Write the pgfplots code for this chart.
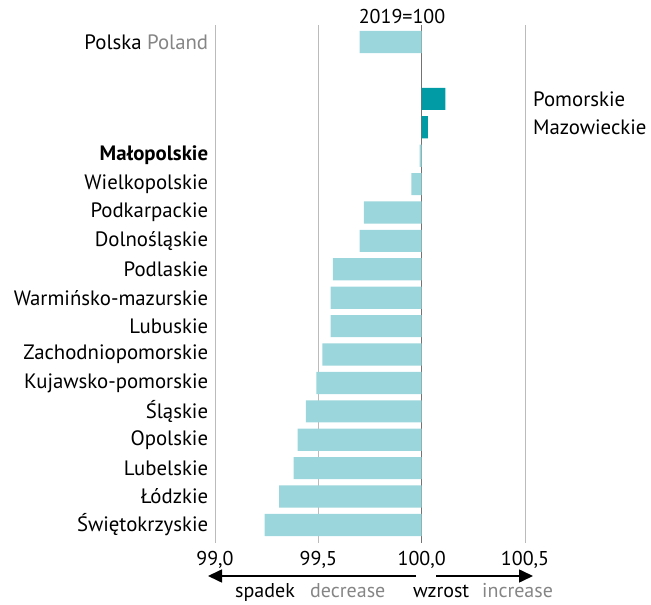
\documentclass[border=0pt]{standalone}
\usepackage{pgfplots}
\pgfplotsset{compat=1.18}
\usepackage{pgfplotstable}
\usepackage{fontspec}
\setmainfont{PT Sans}
\usetikzlibrary{arrows.meta}
\definecolor{lightbar}{HTML}{9BD6DC}
\definecolor{darkbar}{HTML}{009BA4}
\definecolor{txtgray}{HTML}{858585}
\definecolor{gridgray}{HTML}{BBBBBB}
\newcommand\f{\fontsize{20}{23}\selectfont}
\newcommand\fl{\fontsize{20.8}{24}\selectfont}
\newcommand\hundred{100,0}
\pgfplotstableread{
y v
0 99.24
1 99.31
2 99.38
3 99.40
4 99.44
5 99.49
6 99.52
7 99.56
8 99.56
9 99.57
10 99.70
11 99.72
12 99.95
13 99.99
17 99.70
}\lightdata
\pgfplotstableread{
y v
14 100.03
15 100.115
}\darkdata
\begin{document}
\f
\begin{tikzpicture}[x=1pt,y=1pt]
\useasboundingbox (0,0) rectangle (651,605);
\begin{axis}[
  at={(215pt,62pt)}, anchor=south west,
  scale only axis, width=310pt, height=518pt,
  xmin=-1, xmax=0.5, ymin=-0.634, ymax=17.6,
  axis line style={draw=none},
  tick style={draw=none},
  major tick length=0pt,
  xtick={-1,-0.5,0.5},
  xticklabels={{99,0},{99,5},{100,5}},
  extra x ticks={0},
  extra x tick labels={\hundred},
  extra x tick style={grid style={color=black!55, line width=0.9pt}},
  xmajorgrids,
  grid style={color=gridgray, line width=0.7pt},
  ytick={0,1,2,3,4,5,6,7,8,9,10,11,12,13,17},
  yticklabels={Świętokrzyskie,Łódzkie,Lubelskie,Opolskie,Śląskie,Kujawsko-pomorskie,Zachodniopomorskie,Lubuskie,Warmińsko-mazurskie,Podlaskie,Dolnośląskie,Podkarpackie,Wielkopolskie,\textbf{Małopolskie},Polska \textcolor{txtgray}{Poland}},
  xticklabel style={font=\f, yshift=-1pt},
  yticklabel style={font=\fl},
  clip=false,
]
\addplot[xbar, bar width=0.78, bar shift=0pt, fill=lightbar, draw=none] table[x expr=\thisrow{v}-100, y=y] {\lightdata};
\addplot[xbar, bar width=0.78, bar shift=0pt, fill=darkbar, draw=none] table[x expr=\thisrow{v}-100, y=y] {\darkdata};
\node[anchor=west, font=\fl, inner sep=0pt] at (axis cs:0.5,15) [xshift=8pt] {Pomorskie};
\node[anchor=west, font=\fl, inner sep=0pt] at (axis cs:0.5,14) [xshift=8pt] {Mazowieckie};
\end{axis}
\node[font=\f] at (402,588) {2019=100};
\draw[line width=1.6pt, -{Triangle[length=14pt,width=13pt]}] (416,29) -- (208,29);
\draw[line width=1.6pt, -{Triangle[length=14pt,width=13pt]}] (436,29) -- (533,29);
\node[anchor=base west, font=\f, inner sep=0pt] at (235,7) {spadek};
\node[anchor=base west, font=\f, inner sep=0pt, text=txtgray] at (310,7) {decrease};
\node[anchor=base west, font=\f, inner sep=0pt] at (413,7) {wzrost};
\node[anchor=base west, font=\f, inner sep=0pt, text=txtgray] at (482,7) {increase};
\end{tikzpicture}
\end{document}
